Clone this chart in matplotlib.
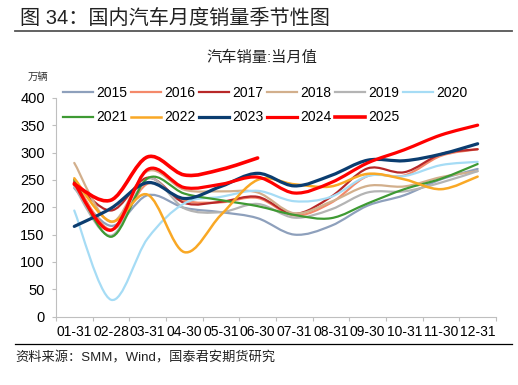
import numpy as np
import matplotlib.pyplot as plt
from matplotlib.path import Path
from matplotlib.patches import PathPatch
from matplotlib.lines import Line2D

plt.rcParams['font.family'] = ['Liberation Sans', 'Noto Sans CJK SC', 'DejaVu Sans']

###########################################################
# data (万辆)

months = ['01-31', '02-28', '03-31', '04-30', '05-31', '06-30',
          '07-31', '08-31', '09-30', '10-31', '11-30', '12-31']

s2015 = [235, 166, 222, 199, 191, 180, 150, 166, 203, 222, 251, 270]
s2016 = [250, 159, 243, 212, 209, 217, 185, 208, 257, 258, 294, 306]
s2017 = [247, 194, 254, 208, 210, 219, 188, 219, 271, 264, 297, 306]
s2018 = [281, 173, 266, 232, 229, 227, 189, 210, 239, 238, 255, 266]
s2019 = [237, 148, 252, 198, 191, 206, 181, 196, 227, 229, 245, 266]
s2020 = [194, 31, 143, 207, 219, 230, 211, 219, 257, 257, 277, 283]
s2021 = [250, 146, 253, 225, 213, 202, 186, 180, 207, 233, 252, 279]
s2022 = [253, 174, 223, 118, 186, 250, 242, 238, 261, 251, 233, 256]
s2023 = [165, 198, 245, 216, 238, 262, 239, 258, 286, 285, 297, 316]
s2024 = [244, 158, 269, 236, 242, 255, 226, 245, 281, 305, 332, 350]
s2025 = [242, 213, 292, 259, 269, 290]

years = ['2015', '2016', '2017', '2018', '2019', '2020',
         '2021', '2022', '2023', '2024', '2025']
series = [s2015, s2016, s2017, s2018, s2019, s2020,
          s2021, s2022, s2023, s2024, s2025]
colors = ['#8EA0BC', '#F4896A', '#B82828', '#D2AF8C', '#B4B4B4', '#A6DCF5',
          '#3E9A33', '#F9A825', '#0B3D70', '#FF0000', '#FF0000']
widths = [1.6, 1.6, 1.6, 1.6, 1.6, 1.6, 1.6, 1.8, 2.3, 2.3, 2.6]

###########################################################
# functions

def smooth_path(y):
    # excel-like smoothed line: catmull-rom segments as cubic bezier
    x = np.arange(len(y), dtype=float)
    y = np.asarray(y, dtype=float)
    pts = np.column_stack([x, y])
    verts = [pts[0]]
    codes = [Path.MOVETO]
    n = len(pts)
    for i in range(n - 1):
        p0 = pts[max(i - 1, 0)]
        p1 = pts[i]
        p2 = pts[i + 1]
        p3 = pts[min(i + 2, n - 1)]
        c1 = p1 + (p2 - p0) / 6.0
        c2 = p2 - (p3 - p1) / 6.0
        verts += [c1, c2, p2]
        codes += [Path.CURVE4] * 3
    return Path(verts, codes)

###########################################################
# main program

fig = plt.figure(figsize=(5.18, 3.85), dpi=100)
ax = fig.add_axes([0.108, 0.1774, 0.8495, 0.5686])

handles = []
for lab, vals, col, lw in zip(years, series, colors, widths):
    patch = PathPatch(smooth_path(vals), fill=False, edgecolor=col,
                      lw=lw, capstyle='round', joinstyle='round')
    ax.add_patch(patch)
    handles.append(Line2D([], [], color=col, lw=lw, label=lab))

ax.set_xlim(-0.5, 11.5)
ax.set_ylim(0, 400)
ax.set_yticks(np.arange(0, 401, 50))
ax.set_xticks(np.arange(-0.5, 12, 1))
ax.set_xticklabels([])
ax.set_xticks(np.arange(12), minor=True)
ax.set_xticklabels(months, minor=True, fontsize=10)
ax.tick_params(axis='x', which='major', length=3, color='#BFBFBF', width=0.8)
ax.tick_params(axis='x', which='minor', length=0, pad=6)
ax.tick_params(axis='y', length=3, color='#BFBFBF', width=0.8, labelsize=10.5, pad=5)
for s in ['top', 'right']:
    ax.spines[s].set_visible(False)
for s in ['left', 'bottom']:
    ax.spines[s].set_color('#BFBFBF')
    ax.spines[s].set_linewidth(0.8)

# legend filled row by row (2 rows x 6 columns)
order = [0, 6, 1, 7, 2, 8, 3, 9, 4, 10, 5]
fig.legend(handles=[handles[i] for i in order], ncol=6, loc='upper left',
           bbox_to_anchor=(0.122, 1 - 86 / 385), frameon=False, fontsize=10,
           handlelength=2.15, handletextpad=0.2, columnspacing=0.3,
           labelspacing=0.75, borderpad=0, borderaxespad=0)

# titles and notes
fig.text(20 / 518, 1 - 18 / 385, '图 34：国内汽车月度销量季节性图', fontsize=14.5,
         va='center', ha='left', color='#222222')
fig.add_artist(Line2D([15 / 518, 512 / 518], [1 - 31 / 385, 1 - 31 / 385],
                      color='#555555', lw=1.3))
fig.text(262 / 518, 1 - 58 / 385, '汽车销量:当月值', fontsize=11,
         va='center', ha='center', color='#222222')
fig.text(38 / 518, 1 - 77 / 385, '万辆', fontsize=7.5,
         va='center', ha='center', color='#333333')
fig.add_artist(Line2D([15 / 518, 512 / 518], [1 - 344 / 385, 1 - 344 / 385],
                      color='black', lw=0.9))
fig.text(15 / 518, 1 - 358 / 385, '资料来源：SMM，Wind，国泰君安期货研究', fontsize=9.5,
         va='center', ha='left', color='#222222')

plt.savefig('out.png', dpi=100)
